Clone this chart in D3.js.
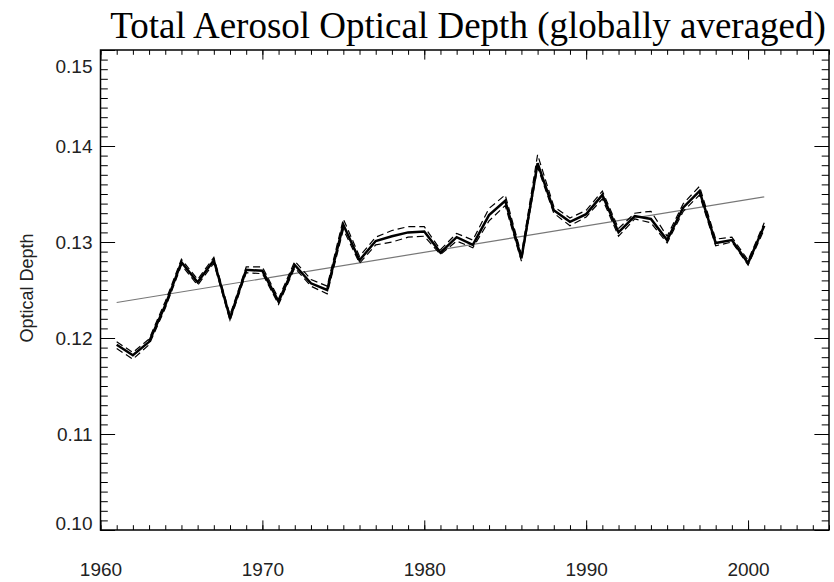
<!DOCTYPE html>
<html>
<head>
<meta charset="utf-8">
<script src="https://cdn.jsdelivr.net/npm/d3@7/dist/d3.min.js"></script>
<style>
  body { margin: 0; background: #fff; }
  .tick text { font-family: "Liberation Sans", Arial, sans-serif; font-size: 19px; fill: #222; }
  .tick line { stroke: #000; stroke-width: 1; }
</style>
</head>
<body>
<svg id="chart" width="834" height="582"></svg>
<script>
//================================
// Data
var years = [1961, 1962, 1963, 1964, 1965, 1966, 1967, 1968, 1969, 1970,
             1971, 1972, 1973, 1974, 1975, 1976, 1977, 1978, 1979, 1980,
             1981, 1982, 1983, 1984, 1985, 1986, 1987, 1988, 1989, 1990,
             1991, 1992, 1993, 1994, 1995, 1996, 1997, 1998, 1999, 2000, 2001];

var aodMean = [0.1193, 0.1182, 0.1196, 0.1234, 0.1279, 0.1258, 0.1281, 0.1221, 0.1271, 0.1270,
               0.1238, 0.1276, 0.1257, 0.1250, 0.1318, 0.1281, 0.1301, 0.1306, 0.1310, 0.1311,
               0.1289, 0.1305, 0.1297, 0.1328, 0.1343, 0.1283, 0.1382, 0.1333, 0.1321, 0.1329,
               0.1349, 0.1310, 0.1327, 0.1324, 0.1302, 0.1336, 0.1353, 0.1299, 0.1302, 0.1278, 0.1317];

var aodHigh = [0.1196, 0.1185, 0.1199, 0.1238, 0.1282, 0.1261, 0.1284, 0.1224, 0.1274, 0.1274,
               0.1241, 0.1280, 0.1261, 0.1254, 0.1324, 0.1285, 0.1305, 0.1312, 0.1316, 0.1316,
               0.1292, 0.1309, 0.1302, 0.1335, 0.1349, 0.1287, 0.1391, 0.1337, 0.1325, 0.1333,
               0.1353, 0.1314, 0.1330, 0.1332, 0.1306, 0.1340, 0.1358, 0.1303, 0.1305, 0.1281, 0.1320];

var aodLow = [0.1189, 0.1178, 0.1193, 0.1231, 0.1276, 0.1255, 0.1278, 0.1218, 0.1268, 0.1267,
              0.1235, 0.1273, 0.1254, 0.1246, 0.1313, 0.1278, 0.1297, 0.1300, 0.1305, 0.1306,
              0.1287, 0.1301, 0.1294, 0.1322, 0.1338, 0.1280, 0.1378, 0.1330, 0.1317, 0.1326,
              0.1345, 0.1306, 0.1324, 0.1320, 0.1299, 0.1332, 0.1349, 0.1296, 0.1300, 0.1276, 0.1313];

var trendYears = [1961, 2001];
var trendValues = [0.1237, 0.1347];

var xTicks = [1960, 1970, 1980, 1990, 2000];
var yTicks = [0.10, 0.11, 0.12, 0.13, 0.14, 0.15];

//================================
// Layout
var plotLeft = 100.5, plotRight = 829, plotTop = 50, plotBottom = 530;

var svg = d3.select('#chart');

var x = d3.scaleLinear().domain([1960, 2005]).range([plotLeft, plotRight]),
    y = d3.scaleLinear().domain([0.10, 0.15]).range([plotBottom, plotTop]);

var xMajorLen = 9.6, yMajorLen = 14.6;

// minor ticks (every year / every 0.001)
svg.append('g').attr('transform', 'translate(0,' + plotBottom + ')')
  .call(d3.axisBottom(x).ticks(45).tickSize(-xMajorLen / 2).tickSizeOuter(0).tickFormat(''));
svg.append('g').attr('transform', 'translate(0,' + plotTop + ')')
  .call(d3.axisTop(x).ticks(45).tickSize(-xMajorLen / 2).tickSizeOuter(0).tickFormat(''));
svg.append('g').attr('transform', 'translate(' + plotLeft + ',0)')
  .call(d3.axisLeft(y).ticks(50).tickSize(-yMajorLen / 2).tickSizeOuter(0).tickFormat(''));
svg.append('g').attr('transform', 'translate(' + plotRight + ',0)')
  .call(d3.axisRight(y).ticks(50).tickSize(-yMajorLen / 2).tickSizeOuter(0).tickFormat(''));

// major ticks
svg.append('g').attr('transform', 'translate(0,' + plotBottom + ')')
  .call(d3.axisBottom(x).tickValues(xTicks).tickSize(-xMajorLen).tickSizeOuter(0)
    .tickPadding(33).tickFormat(d3.format('d')));
svg.append('g').attr('transform', 'translate(0,' + plotTop + ')')
  .call(d3.axisTop(x).tickValues(xTicks).tickSize(-xMajorLen).tickSizeOuter(0).tickFormat(''));
var yAxis = svg.append('g').attr('transform', 'translate(' + plotLeft + ',0)')
  .call(d3.axisLeft(y).tickValues(yTicks).tickSize(-yMajorLen).tickSizeOuter(0)
    .tickPadding(8).tickFormat(d3.format('.2f')));
svg.append('g').attr('transform', 'translate(' + plotRight + ',0)')
  .call(d3.axisRight(y).tickValues(yTicks).tickSize(-yMajorLen).tickSizeOuter(0).tickFormat(''));

svg.selectAll('.domain').remove();

// end labels sit inside the frame
yAxis.selectAll('.tick text')
  .attr('y', function(d) { return d >= 0.15 ? 16 : (d <= 0.10 ? -7 : 0); });

// frame
svg.append('rect')
  .attr('x', plotLeft).attr('y', plotTop)
  .attr('width', plotRight - plotLeft).attr('height', plotBottom - plotTop)
  .attr('fill', 'none').attr('stroke', '#000').attr('stroke-width', 1.5);

//================================
// Lines
var line = function(vals, xs) {
  return d3.line()
    .x(function(d, i) { return x(xs[i]); })
    .y(function(d) { return y(d); })(vals);
};

svg.append('path')
  .attr('d', line(trendValues, trendYears))
  .attr('fill', 'none').attr('stroke', '#777').attr('stroke-width', 1.2);

svg.append('path')
  .attr('d', line(aodHigh, years))
  .attr('fill', 'none').attr('stroke', '#000').attr('stroke-width', 1.2)
  .attr('stroke-dasharray', '7,4');

svg.append('path')
  .attr('d', line(aodLow, years))
  .attr('fill', 'none').attr('stroke', '#000').attr('stroke-width', 1.2)
  .attr('stroke-dasharray', '7,4');

svg.append('path')
  .attr('d', line(aodMean, years))
  .attr('fill', 'none').attr('stroke', '#000').attr('stroke-width', 2.5);

//================================
// Titles
svg.append('text')
  .attr('x', 468).attr('y', 38)
  .attr('text-anchor', 'middle')
  .style('font-family', '"Liberation Serif", "Times New Roman", serif')
  .style('font-size', '37px')
  .style('fill', '#000')
  .text('Total Aerosol Optical Depth (globally averaged)');

svg.append('text')
  .attr('transform', 'translate(27,288) rotate(-90)')
  .attr('text-anchor', 'middle')
  .attr('dy', '0.35em')
  .style('font-family', '"Liberation Sans", Arial, sans-serif')
  .style('font-size', '18px')
  .style('fill', '#222')
  .text('Optical Depth');
</script>
</body>
</html>
